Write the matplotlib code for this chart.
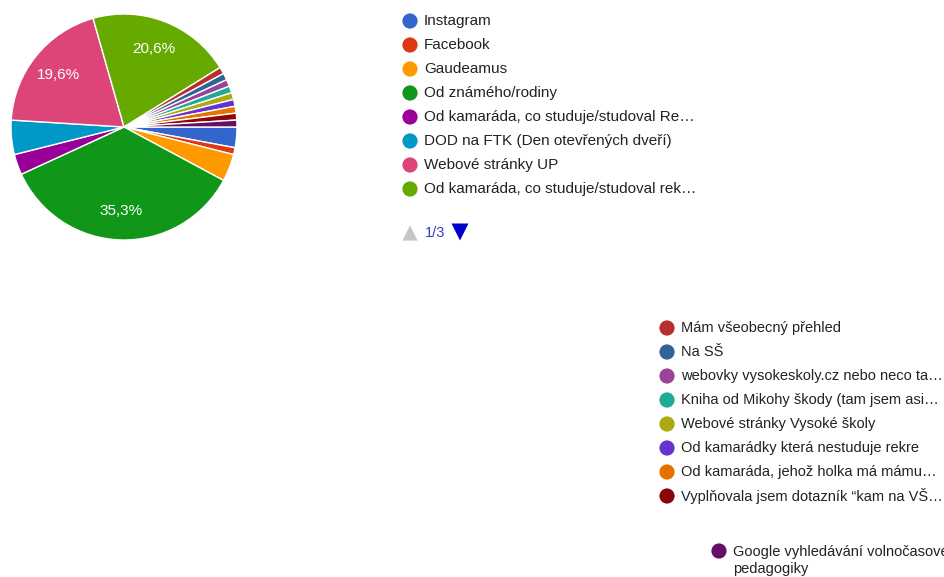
import matplotlib.pyplot as plt

plt.rcParams['font.family'] = ['Liberation Sans', 'DejaVu Sans']

labels = [
    'Instagram',
    'Facebook',
    'Gaudeamus',
    'Od známého/rodiny',
    'Od kamaráda, co studuje/studoval Re…',
    'DOD na FTK (Den otevřených dveří)',
    'Webové stránky UP',
    'Od kamaráda, co studuje/studoval rek…',
    'Mám všeobecný přehled',
    'Na SŠ',
    'webovky vysokeskoly.cz nebo neco ta…',
    'Kniha od Mikohy škody (tam jsem asi…',
    'Webové stránky Vysoké školy',
    'Od kamarádky která nestuduje rekre',
    'Od kamaráda, jehož holka má mámu…',
    'Vyplňovala jsem dotazník “kam na VŠ…',
    'Google vyhledávání volnočasové\npedagogiky',
]
counts = [3, 1, 4, 36, 3, 5, 20, 21, 1, 1, 1, 1, 1, 1, 1, 1, 1]
colors = ['#3366cc', '#dc3912', '#ff9900', '#109618', '#990099', '#0099c6',
          '#dd4477', '#66aa00', '#b82e2e', '#316395', '#994499', '#22aa99',
          '#aaaa11', '#6633cc', '#e67300', '#8b0707', '#651067']

W, H = 945, 577
fig = plt.figure(figsize=(W / 100, H / 100), dpi=100)

# pie: center (124,127) px, radius 113 px
cx, cy, r = 124, 127, 113
ax = fig.add_axes([(cx - r) / W, (H - cy - r) / H, 2 * r / W, 2 * r / H])


def fmt(p):
    if p < 10:
        return ''
    return ('%.1f%%' % p).replace('.', ',')


wedges, texts, autotexts = ax.pie(
    counts, colors=colors, startangle=0, counterclock=False,
    autopct=fmt, pctdistance=0.74,
    wedgeprops=dict(edgecolor='white', linewidth=1),
    textprops=dict(color='white', fontsize=11))
ax.set_xlim(-1, 1)
ax.set_ylim(-1, 1)
ax.set_aspect('equal')
ax.axis('off')

# overlay in pixel coordinates for legend blocks
lx = fig.add_axes([0, 0, 1, 1])
lx.set_xlim(0, W)
lx.set_ylim(H, 0)
lx.axis('off')

txt_color = '#222222'
# (marker x, first row y, rows, font size)
blocks = [(410, 21, range(0, 8), 11),
          (667, 328, range(8, 16), 10.5),
          (719, 551, range(16, 17), 10.5)]
for mx, y0, idx, fs in blocks:
    for k, i in enumerate(idx):
        y = y0 + 24 * k
        lx.scatter([mx], [y], s=120, color=colors[i], edgecolors='none')
        multi = '\n' in labels[i]
        lx.text(mx + 14, y + 9.5 if multi else y, labels[i],
                fontsize=fs, color=txt_color, va='center',
                linespacing=1.3)

# pager
lx.scatter([410], [233], marker='^', s=120, color='#c6c6c6', edgecolors='none')
lx.text(425, 233, '1/3', fontsize=10.5, color='#3339cc', va='center')
lx.scatter([460], [232], marker='v', s=150, color='#0000cc', edgecolors='none')

fig.savefig('out.png', dpi=100)
